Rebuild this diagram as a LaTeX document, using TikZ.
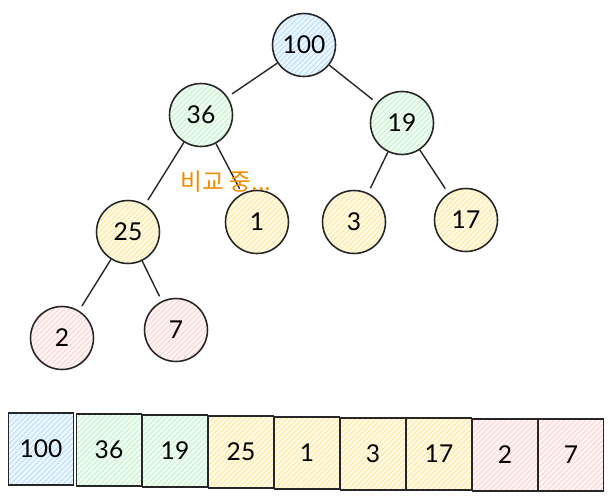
\documentclass[tikz,border=0pt]{standalone}
\usepackage{fontspec}
\setmainfont{Lato}
\newfontfamily\krfont{Noto Sans CJK KR}
\usetikzlibrary{patterns}

\definecolor{blueC}{HTML}{74C0FC}
\definecolor{greenC}{HTML}{8CE99A}
\definecolor{yellowC}{HTML}{FFD43B}
\definecolor{redC}{HTML}{FFA8A8}
\definecolor{orangeC}{HTML}{F08C00}

\tikzset{
  heapnode/.style={circle, draw=black!85, line width=0.9pt, minimum size=1.26cm,
    font=\fontsize{14}{16}\selectfont,
    preaction={fill=#1!12}, pattern=north east lines, pattern color=#1!60},
  cell/.style={draw=black!85, line width=0.9pt, minimum width=1.3cm, minimum height=1.44cm,
    font=\fontsize{14}{16}\selectfont,
    preaction={fill=#1!12}, pattern=north east lines, pattern color=#1!60},
  edge/.style={black!85, line width=0.8pt, shorten <=0pt, shorten >=3pt}
}

\begin{document}
\begin{tikzpicture}[x=0.02cm, y=-0.02cm]
\useasboundingbox (0,0) rectangle (612,500);

% tree
\node[heapnode=blueC] (n100) at (304,45) {100};
\node[heapnode=greenC] (n36) at (201,115) {36};
\node[heapnode=greenC] (n19) at (402,123) {19};
\node[heapnode=yellowC] (n25) at (128,232) {25};
\node[heapnode=yellowC] (n1) at (257,222) {1};
\node[heapnode=yellowC] (n3) at (354,222) {3};
\node[heapnode=yellowC] (n17) at (466,220) {17};
\node[heapnode=redC] (n2) at (62,338) {2};
\node[heapnode=redC] (n7) at (176,330) {7};

\draw[edge] (n100) -- (n36);
\draw[edge] (n100) -- (n19);
\draw[edge] (n36) -- (n25);
\draw[edge] (n36) -- (n1);
\draw[edge] (n19) -- (n3);
\draw[edge] (n19) -- (n17);
\draw[edge] (n25) -- (n2);
\draw[edge] (n25) -- (n7);

\node[text=orangeC, font=\krfont\fontsize{13.5}{15}\selectfont] (cmp) at (226,182) {비교 중...};

% array
\node[cell=blueC] (a0) at (41,449) {100};
\node[cell=greenC] (a1) at (109,450) {36};
\node[cell=greenC] (a2) at (175,451) {19};
\node[cell=yellowC] (a3) at (241,452) {25};
\node[cell=yellowC] (a4) at (307,453) {1};
\node[cell=yellowC] (a5) at (373,454) {3};
\node[cell=yellowC] (a6) at (439,454) {17};
\node[cell=redC] (a7) at (505,455) {2};
\node[cell=redC] (a8) at (571,455) {7};
\end{tikzpicture}
\end{document}
